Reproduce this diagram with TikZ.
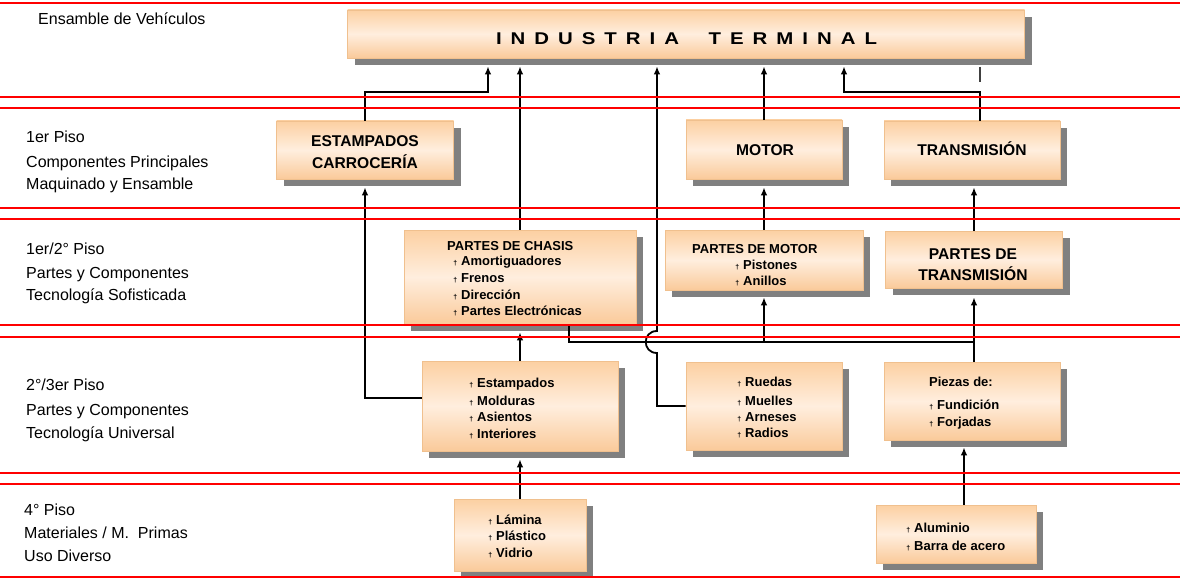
\documentclass[tikz,border=0pt]{standalone}
\usepackage{fontspec}
\usepackage{graphicx}
\setmainfont{Liberation Sans}
\usetikzlibrary{arrows.meta,shadows,calc}

\definecolor{ptop}{RGB}{252,208,162}
\definecolor{pmid}{RGB}{255,238,222}
\definecolor{pbot}{RGB}{250,202,154}
\definecolor{pedge}{RGB}{240,192,142}
\definecolor{shd}{RGB}{128,128,128}
\definecolor{redl}{RGB}{255,0,0}

\newcommand\bul{{\fontsize{7}{7}\selectfont\textdagger}}
\newcommand\itm[1]{\llap{\bul\hspace{4pt}}#1}
\newcommand\ls{\hspace{7.5pt}}

\tikzset{
 box/.style={rectangle, draw=pedge, line width=0.6pt, top color=ptop, bottom color=pbot, middle color=pmid,
   drop shadow={shadow xshift=7pt, shadow yshift=-7pt, fill=shd, opacity=1}, inner sep=0pt},
 conn/.style={line width=1.8pt, black},
 arr/.style={conn, -{Latex[length=8pt,width=6.5pt]}},
 redline/.style={redl, line width=2pt},
 lab/.style={font=\fontsize{16}{19}\selectfont, anchor=base west, inner sep=0pt},
 btitle/.style={font=\bfseries\fontsize{15.6}{18}\selectfont, anchor=base, inner sep=0pt},
 item/.style={font=\bfseries\fontsize{13}{15}\selectfont, anchor=base west, inner sep=0pt},
}

\begin{document}
\begin{tikzpicture}[x=1pt,y=-1pt]
\useasboundingbox (0,0) rectangle (1180,580);

% boxes
\node[box, minimum width=677pt, minimum height=48pt] (top) at (686,34) {};
\node[box, minimum width=177pt, minimum height=58pt] (estC) at (365,150) {};
\node[box, minimum width=156pt, minimum height=59pt] (motor) at (764,149.5) {};
\node[box, minimum width=176pt, minimum height=58pt] (trans) at (972,150) {};
\node[box, minimum width=232pt, minimum height=94pt] (chasis) at (520,277) {};
\node[box, minimum width=198pt, minimum height=60pt] (pmotor) at (764,260) {};
\node[box, minimum width=177pt, minimum height=57pt] (ptrans) at (974,259.5) {};
\node[box, minimum width=196pt, minimum height=90pt] (est23) at (520,406) {};
\node[box, minimum width=156pt, minimum height=88pt] (ruedas) at (764,406) {};
\node[box, minimum width=176pt, minimum height=78pt] (piezas) at (972,401) {};
\node[box, minimum width=132pt, minimum height=72pt] (lamina) at (520,535) {};
\node[box, minimum width=160pt, minimum height=58pt] (alum) at (956,534) {};

% box texts
\node[btitle, font=\bfseries\fontsize{17}{20}\selectfont] (topT) at (686.5,45)
  {\scalebox{1.2}[1]{I\ls N\ls D\ls U\ls S\ls T\ls R\ls I\ls A\hspace{24.6pt}T\ls E\ls R\ls M\ls I\ls N\ls A\ls L}};
\node[btitle] (estCa) at (365,147) {ESTAMPADOS};
\node[btitle] (estCb) at (365,169) {CARROCERÍA};
\node[btitle] (motorT) at (765,155.7) {MOTOR};
\node[btitle] (transT) at (972,156) {TRANSMISIÓN};
\node[btitle] (ptransa) at (973,259) {PARTES DE};
\node[btitle] (ptransb) at (973,280) {TRANSMISIÓN};

\node[item] (chT) at (447,250) {PARTES DE CHASIS};
\node[item] (ch1) at (461,265.5) {\itm{Amortiguadores}};
\node[item] (ch2) at (461,282) {\itm{Frenos}};
\node[item] (ch3) at (461,299) {\itm{Dirección}};
\node[item] (ch4) at (461,315.5) {\itm{Partes Electrónicas}};

\node[item] (pmT) at (692,253) {PARTES DE MOTOR};
\node[item] (pm1) at (743,269) {\itm{Pistones}};
\node[item] (pm2) at (743,285) {\itm{Anillos}};

\node[item] (e1) at (477,387.3) {\itm{Estampados}};
\node[item] (e2) at (477,405) {\itm{Molduras}};
\node[item] (e3) at (477,421.7) {\itm{Asientos}};
\node[item] (e4) at (477,438.7) {\itm{Interiores}};

\node[item] (r1) at (745,386.7) {\itm{Ruedas}};
\node[item] (r2) at (745,405) {\itm{Muelles}};
\node[item] (r3) at (745,421) {\itm{Arneses}};
\node[item] (r4) at (745,437.7) {\itm{Radios}};

\node[item] (pzT) at (929,386.7) {Piezas de:};
\node[item] (pz1) at (937,409) {\itm{Fundición}};
\node[item] (pz2) at (937,426) {\itm{Forjadas}};

\node[item] (l1) at (496,524) {\itm{Lámina}};
\node[item] (l2) at (496,540.7) {\itm{Plástico}};
\node[item] (l3) at (496,557.3) {\itm{Vidrio}};

\node[item] (a1) at (914,532.7) {\itm{Aluminio}};
\node[item] (a2) at (914,550) {\itm{Barra de acero}};

% left labels
\node[lab] (L0) at (38,25) {Ensamble de Vehículos};
\node[lab] (L1a) at (26,142.4) {1er Piso};
\node[lab] (L1b) at (26,167.2) {Componentes Principales};
\node[lab] (L1c) at (26,189.4) {Maquinado y Ensamble};
\node[lab] (L2a) at (26,254) {1er/2° Piso};
\node[lab] (L2b) at (26,278) {Partes y Componentes};
\node[lab] (L2c) at (26,300.4) {Tecnología Sofisticada};
\node[lab] (L3a) at (26,390.3) {2°/3er Piso};
\node[lab] (L3b) at (26,415) {Partes y Componentes};
\node[lab] (L3c) at (26,438.4) {Tecnología Universal};
\node[lab] (L4a) at (24,515.4) {4° Piso};
\node[lab] (L4b) at (24,538.3) {Materiales / M.\ \ Primas};
\node[lab] (L4c) at (24,561.6) {Uso Diverso};

% coordinates
\coordinate (hopB) at (657,353);
\coordinate (hopT) at (657,331);
\coordinate (stubA) at (980,67);
\coordinate (stubB) at (980,82);
\coordinate (busR) at (974,342);
\coordinate (busM) at (764,342);

% connectors
\draw[arr, shorten >=8pt] (estC.north) -- ++(0,-29) -| ([xshift=-198pt]top.south);
\draw[arr, shorten >=8pt] (chasis.north) -- (chasis.north |- top.south);
\draw[arr, shorten >=8pt] (ruedas.west) -| (hopB) .. controls +(-15,0) and +(-15,0) .. (hopT) -- (hopT |- top.south);
\draw[line width=1.2pt, black!75] (stubA) -- (stubB);
\draw[arr, shorten >=8pt] (motor.north) -- (motor.north |- top.south);
\draw[arr, shorten >=8pt] ([xshift=8pt]trans.north) -- ++(0,-29) -| ([xshift=158pt]top.south);
\draw[arr, shorten >=8pt] (pmotor.north) -- (pmotor.north |- motor.south);
\draw[arr, shorten >=8pt] (ptrans.north) -- (ptrans.north |- trans.south);
\draw[arr, shorten >=8pt] ([yshift=8pt]est23.west) -| (estC.south);
\draw[arr, shorten >=8pt] (est23.north) -- (est23.north |- chasis.south);
\draw[arr, shorten >=8pt] (lamina.north) -- (lamina.north |- est23.south);
\draw[conn] ([xshift=2pt]piezas.north) -- (busR) -| ([xshift=49pt]chasis.south);
\draw[arr, shorten >=7pt] (busM) -- (busM |- pmotor.south);
\draw[arr, shorten >=9pt] (busR) -- (busR |- ptrans.south);
\draw[arr, shorten >=7pt] ([xshift=8pt]alum.north) -- ([xshift=8pt]alum.north |- piezas.south);

% red separators
\foreach \yy in {3,97,108,208,219,325,337,473,484,577}
  \draw[redline] (0,\yy) -- (1180,\yy);
\end{tikzpicture}
\end{document}
